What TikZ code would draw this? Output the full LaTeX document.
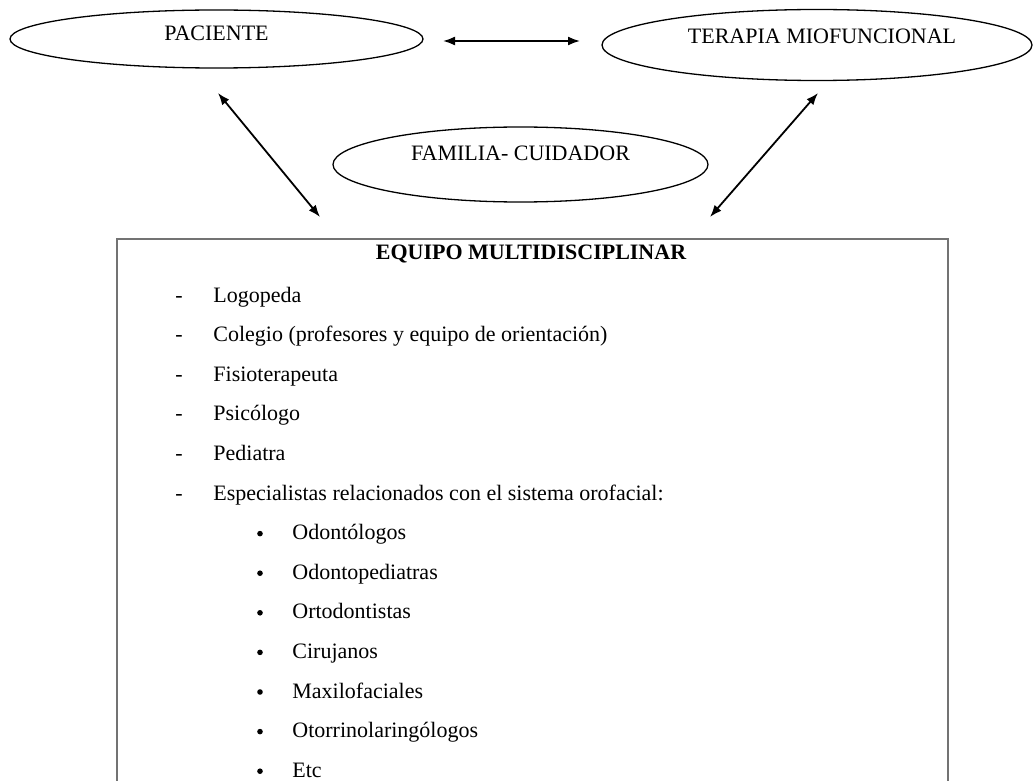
\documentclass[tikz,border=0pt]{standalone}
\usepackage{fontspec}
\setmainfont{Liberation Serif}
\usetikzlibrary{shapes.geometric,arrows.meta}

\begin{document}
\begin{tikzpicture}[x=0.5pt,y=-0.5pt,font=\fontsize{11}{13}\selectfont,
  elipse/.style={draw,ellipse,inner sep=0pt,line width=0.65pt},
  flecha/.style={{Latex[length=6pt,width=4.5pt]}-{Latex[length=6pt,width=4.5pt]},line width=0.9pt},
  lista/.style={anchor=base west,inner sep=0pt},
  punto/.style={circle,fill,inner sep=0pt,minimum size=2.8pt}]
\useasboundingbox (0,0) rectangle (1034,781);
\clip (0,0) rectangle (1034,781);

\node[elipse,minimum width=206.5pt,minimum height=29pt] (pac) at (216.5,39) {};
\node (pac-t) at (216.5,33) {PACIENTE};
\node[elipse,minimum width=215pt,minimum height=35.5pt] (ter) at (817,45) {};
\node (ter-t) at (822,36) {TERAPIA MIOFUNCIONAL};
\node[elipse,minimum width=187.5pt,minimum height=37.5pt] (fam) at (520.5,164.5) {};
\node (fam-t) at (520.5,153) {FAMILIA- CUIDADOR};

\node[draw=black!55,line width=1pt,anchor=north west,inner sep=0pt,
  minimum width=415.5pt,minimum height=290pt] (equipo) at (116,238) {};
\node (titulo) at (531,254) {\bfseries EQUIPO MULTIDISCIPLINAR};

\coordinate (h1) at (443,41);
\coordinate (h2) at (580,41);
\coordinate (l1) at (218,93);
\coordinate (l2) at (320,217);
\coordinate (r1) at (818,93);
\coordinate (r2) at (710,217);
\draw[flecha] (h1) -- (h2);
\draw[flecha] (l1) -- (l2);
\draw[flecha] (r1) -- (r2);

\foreach \txt [count=\i from 0] in {Logopeda,Colegio (profesores y equipo de orientación),
  Fisioterapeuta,Psicólogo,Pediatra,Especialistas relacionados con el sistema orofacial:}
{
\node[lista] (guion\i) at (175,{302+39.6*\i}) {-};
\node[lista] (item\i) at (213,{302+39.6*\i}) {\txt};
}
\foreach \txt [count=\i from 6] in {Odontólogos,Odontopediatras,Ortodontistas,Cirujanos,
  Maxilofaciales,Otorrinolaringólogos,Etc}
{
\node[punto] (punto\i) at (260,{296+39.6*\i}) {};
\node[lista] (item\i) at (292,{302+39.6*\i}) {\txt};
}
\end{tikzpicture}
\end{document}
